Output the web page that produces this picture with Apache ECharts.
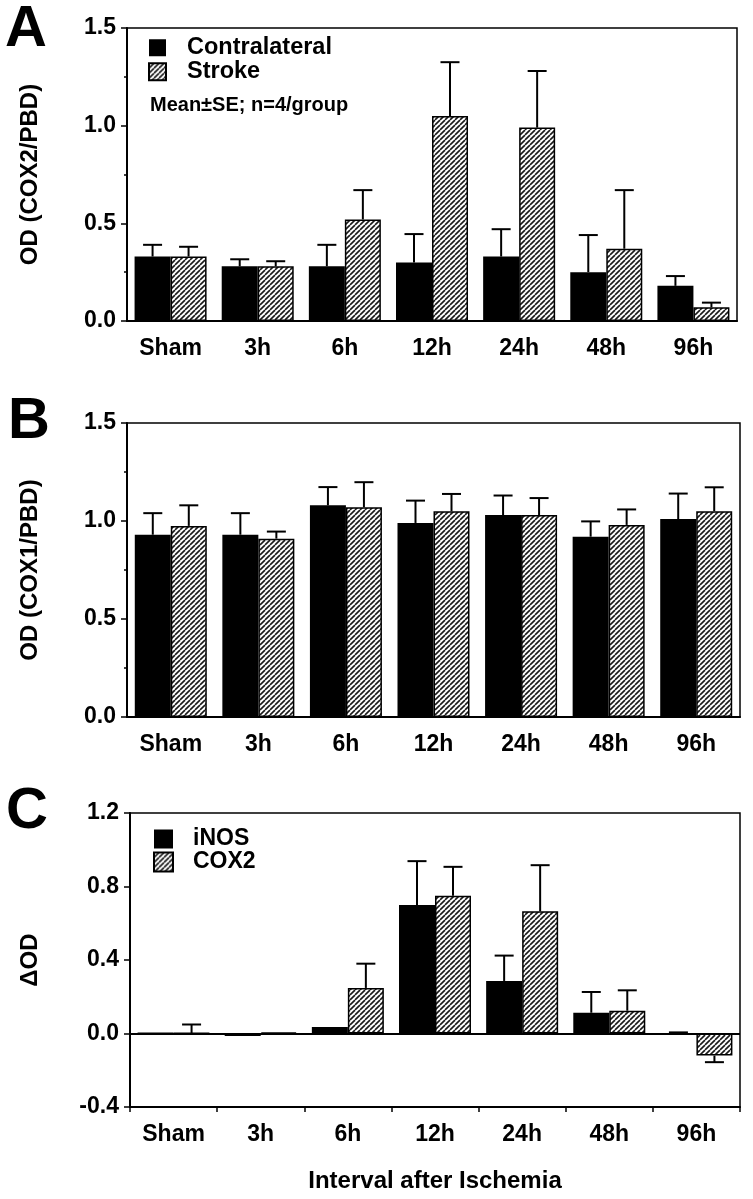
<!DOCTYPE html>
<html><head><meta charset="utf-8">
<script src="https://cdn.jsdelivr.net/npm/echarts/dist/echarts.min.js"></script>
<style>html,body{margin:0;padding:0;background:#fff}#c{width:753px;height:1199px}</style>
</head><body><div id="c"></div>
<script>
// ---- data ----
const categories = ['Sham', '3h', '6h', '12h', '24h', '48h', '96h'];
// Panel A: OD (COX2/PBD)
const contraA   = [0.33, 0.28, 0.28, 0.30, 0.33, 0.25, 0.18];
const contraASE = [0.06, 0.036, 0.11, 0.145, 0.14, 0.19, 0.05];
const strokeA   = [0.33, 0.28, 0.52, 1.05, 0.99, 0.37, 0.07];
const strokeASE = [0.05, 0.026, 0.15, 0.275, 0.29, 0.30, 0.024];
// Panel B: OD (COX1/PBD)
const contraB   = [0.93, 0.93, 1.08, 0.99, 1.03, 0.92, 1.01];
const contraBSE = [0.11, 0.11, 0.093, 0.114, 0.10, 0.078, 0.13];
const strokeB   = [0.975, 0.91, 1.07, 1.05, 1.03, 0.98, 1.05];
const strokeBSE = [0.105, 0.036, 0.128, 0.088, 0.087, 0.079, 0.122];
// Panel C: delta OD
const inosC     = [0.006, -0.014, 0.035, 0.70, 0.286, 0.113, 0.002];
const inosCSE   = [0, 0, 0, 0.238, 0.138, 0.113, 0.004];
const cox2C     = [0.002, 0.006, 0.248, 0.749, 0.665, 0.124, -0.12];
const cox2CSE   = [0.047, 0, 0.132, 0.158, 0.251, 0.111, 0.036];

const yTicksAB = {min: 0, max: 1.5, interval: 0.5};
const yTicksC  = {min: -0.4, max: 1.2, interval: 0.4};

// ---- styling ----
const FONT = '"Liberation Sans", Arial, Helvetica, sans-serif';
const BAR_W = 36;
function hatchCanvas() {
  const c = document.createElement('canvas');
  c.width = 5; c.height = 5;
  const g = c.getContext('2d');
  g.fillStyle = '#fff'; g.fillRect(0, 0, 5, 5);
  g.strokeStyle = '#1a1a1a'; g.lineWidth = 1.6;
  [-5, 0, 5].forEach(k => { g.beginPath(); g.moveTo(k, 5); g.lineTo(k + 5, 0); g.stroke(); });
  return c;
}
const HATCH = {image: hatchCanvas(), repeat: 'repeat'};
const solidStyle = {color: '#000'};
const hatchStyle = {color: HATCH, borderColor: '#000', borderWidth: 1.5};

const grids = [
  {left: 127, top: 28, width: 610, height: 293},
  {left: 127, top: 423, width: 613, height: 294},
  {left: 130, top: 813, width: 610, height: 294}
].map(g => Object.assign(g, {show: true, borderColor: '#000', borderWidth: 1.5, backgroundColor: 'transparent', containLabel: false, outerBoundsMode: 'none'}));

function xAxis(idx, withTicks, name) {
  return {
    type: 'category', gridIndex: idx, data: categories,
    axisLine: {show: true, onZero: false, lineStyle: {color: '#000', width: 2}},
    axisTick: {show: withTicks, length: 5, inside: false, lineStyle: {color: '#000', width: 1.5}},
    axisLabel: {color: '#000', fontFamily: FONT, fontWeight: 'bold', fontSize: 23, margin: 16},
    splitLine: {show: false},
    name: name || '', nameLocation: 'middle', nameGap: 62,
    nameTextStyle: {color: '#000', fontFamily: FONT, fontWeight: 'bold', fontSize: 24}
  };
}
function yAxis(idx, ticks, name, minor, gap) {
  return {
    type: 'value', gridIndex: idx, min: ticks.min, max: ticks.max, interval: ticks.interval,
    axisLine: {show: true, lineStyle: {color: '#000', width: 2}},
    axisTick: {show: true, length: 6, lineStyle: {color: '#000', width: 1.5}},
    minorTick: {show: minor, splitNumber: 2, length: 3, lineStyle: {color: '#000', width: 1.5}},
    axisLabel: {color: '#000', fontFamily: FONT, fontWeight: 'bold', fontSize: 23, margin: 11,
      formatter: v => v.toFixed(1)},
    splitLine: {show: false}, minorSplitLine: {show: false},
    name: name, nameLocation: 'middle', nameRotate: 90, nameGap: gap,
    nameTextStyle: {color: '#000', fontFamily: FONT, fontWeight: 'bold', fontSize: 24}
  };
}

function barSeries(name, idx, values, style) {
  return {type: 'bar', name: name, xAxisIndex: idx, yAxisIndex: idx, data: values,
    barWidth: BAR_W, barGap: '0%', itemStyle: style, silent: true, z: 2};
}
function errSeries(idx, values, ses, side) {
  return {
    type: 'custom', xAxisIndex: idx, yAxisIndex: idx, silent: true, z: 3,
    data: values.map((v, i) => [i, v, ses[i]]),
    renderItem: function (params, api) {
      const i = api.value(0), v = api.value(1), se = api.value(2);
      if (!se) return null;
      const p0 = api.coord([i, v]);
      const p1 = api.coord([i, v < 0 ? v - se : v + se]);
      const x = p0[0] + side * BAR_W / 2;
      const ls = {stroke: '#000', lineWidth: 2};
      return {type: 'group', children: [
        {type: 'line', shape: {x1: x, y1: p0[1], x2: x, y2: p1[1]}, style: ls},
        {type: 'line', shape: {x1: x - 9.5, y1: p1[1], x2: x + 9.5, y2: p1[1]}, style: ls}
      ]};
    }
  };
}

const zeroLine = {silent: true, symbol: 'none', label: {show: false},
  lineStyle: {color: '#000', width: 2, type: 'solid'}, data: [{yAxis: 0}]};

const cBarInos = barSeries('iNOS', 2, inosC, solidStyle);
cBarInos.markLine = zeroLine;

const option = {
  animation: false,
  backgroundColor: '#fff',
  grid: grids,
  xAxis: [xAxis(0, false), xAxis(1, false), xAxis(2, true, 'Interval after Ischemia')],
  yAxis: [yAxis(0, yTicksAB, 'OD (COX2/PBD)', true, 85), yAxis(1, yTicksAB, 'OD (COX1/PBD)', true, 85),
          yAxis(2, yTicksC, '\u0394OD', false, 88)],
  legend: [
    {orient: 'vertical', left: 148, top: 35.75, padding: 0, itemWidth: 17, itemHeight: 17, itemGap: 0,
     icon: 'rect', selectedMode: false, data: ['Contralateral', 'Stroke'],
     textStyle: {color: '#000', fontFamily: FONT, fontWeight: 'bold', fontSize: 23.5, lineHeight: 23.5, padding: [0, 0, 0, 16]}},
    {orient: 'vertical', left: 153, top: 827.5, padding: 0, itemWidth: 19, itemHeight: 19, itemGap: 0,
     icon: 'rect', selectedMode: false, data: ['iNOS', 'COX2'],
     textStyle: {color: '#000', fontFamily: FONT, fontWeight: 'bold', fontSize: 23, lineHeight: 20, padding: [0, 0, 0, 15]}}
  ],
  graphic: [
    {type: 'text', left: 5, top: 1, style: {text: 'A', fill: '#000', font: 'bold 58px ' + FONT}},
    {type: 'text', left: 8, top: 393, style: {text: 'B', fill: '#000', font: 'bold 58px ' + FONT}},
    {type: 'text', left: 6, top: 783, style: {text: 'C', fill: '#000', font: 'bold 58px ' + FONT}},
    {type: 'text', left: 150, top: 95, style: {text: 'Mean\u00B1SE; n=4/group', fill: '#000', font: 'bold 20px ' + FONT}}
  ],
  series: [
    barSeries('Contralateral', 0, contraA, solidStyle),
    barSeries('Stroke', 0, strokeA, hatchStyle),
    errSeries(0, contraA, contraASE, -1),
    errSeries(0, strokeA, strokeASE, 1),
    barSeries('Contralateral', 1, contraB, solidStyle),
    barSeries('Stroke', 1, strokeB, hatchStyle),
    errSeries(1, contraB, contraBSE, -1),
    errSeries(1, strokeB, strokeBSE, 1),
    cBarInos,
    barSeries('COX2', 2, cox2C, hatchStyle),
    errSeries(2, inosC, inosCSE, -1),
    errSeries(2, cox2C, cox2CSE, 1)
  ]
};
const chart = echarts.init(document.getElementById('c'), null, {renderer: 'canvas'});
chart.setOption(option);
</script>
</body></html>
